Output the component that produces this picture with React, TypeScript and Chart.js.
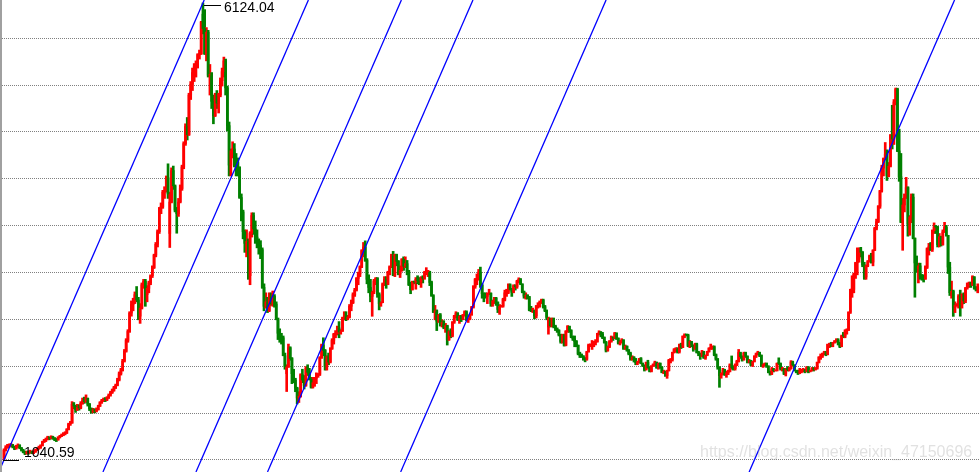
import { useEffect, useRef } from "react";
import { Chart, registerables } from "chart.js";
Chart.register(...registerables);

// Weekly bars, oldest first (index 0 = first week shown)
const opens = [
  // 2005
  1060,1150,1180,1195,1200,1210,1185,1170,1190,1205,1175,1150,1130,1115,1125,1120,1135,1120,1130,1150,1165,
  // 2006
  1180,1200,1240,1255,1270,1290,1280,1295,1285,1270,1265,1290,1305,1315,1330,1340,1380,1440,1450,1660,1640,1600,1630,1620,1670,1700,1690,1725,1660,1610,1580,1600,1585,1600,1640,1680,1700,1715,1710,1730,1760,1790,1815,1845,1870,1930,2000,2040,2140,2250,2370,2470,
  // 2007
  2675,2770,2795,2880,2820,2640,2730,2990,3030,2880,2950,3010,3090,3180,3320,3440,3580,3840,3860,4020,4030,4180,3560,3910,4260,4090,3820,3780,3910,4060,4300,4560,4750,4660,5100,5220,5350,5420,5450,5550,5560,6000,5840,5560,5800,5320,5330,5030,4870,5090,5010,5100,
  // 2008
  5260,5360,5480,5180,4760,4320,4480,4500,4370,4350,4300,3960,3800,3580,3450,3470,3090,3560,3760,3610,3520,3470,3430,3380,2960,2750,2800,2700,2860,2780,2860,2775,2610,2450,2405,2400,2200,2000,2075,2290,2170,2000,1930,1840,1730,1750,1990,1930,1870,2060,2015,1940,
  // 2009
  1850,1900,1950,1990,1995,2180,2320,2260,2080,2190,2130,2280,2370,2440,2445,2510,2465,2475,2625,2650,2610,2630,2750,2790,2880,2930,3060,3110,3190,3370,3410,3260,3050,2960,2860,2910,3030,3060,2880,2780,2790,3000,3050,2995,3130,3190,3310,3100,3320,3250,3110,3150,
  // 2010
  3275,3195,3225,3130,2990,2935,3020,3018,3050,3030,3015,3065,3060,3130,3130,3130,3015,2870,2690,2700,2585,2655,2555,2570,2515,2535,2380,2470,2425,2575,2640,2670,2605,2640,2610,2655,2690,2600,2610,2655,2740,2970,3050,3050,3130,2985,2890,2870,2860,2885,2895,2780,
  // 2011
  2810,2840,2790,2715,2750,2752,2827,2900,2905,2990,2937,2906,2977,2967,3030,3050,2999,2911,2863,2872,2858,2709,2705,2705,2643,2746,2762,2797,2820,2745,2701,2520,2593,2534,2612,2528,2497,2482,2432,2359,2431,2317,2473,2528,2481,2416,2387,2360,2316,2224,2204,2199,
  // 2012
  2170,2163,2244,2319,2320,2330,2351,2357,2439,2460,2439,2404,2349,2262,2302,2359,2406,2396,2452,2394,2344,2350,2373,2281,2306,2260,2225,2170,2185,2168,2123,2132,2168,2114,2092,2047,2127,2069,2026,2086,2104,2128,2066,2117,2069,2015,2026,1980,2033,2150,2153,2234,
  // 2013
  2269,2276,2243,2317,2292,2419,2432,2430,2314,2359,2318,2278,2328,2236,2226,2206,2245,2177,2205,2246,2283,2288,2301,2211,2162,2073,1979,2007,2039,1992,2010,2029,2100,2068,2057,2098,2139,2236,2191,2160,2228,2193,2133,2149,2106,2135,2196,2220,2237,2205,2085,2101,
  // 2014
  2116,2083,2014,2004,2054,2033,2035,2115,2113,2056,2057,2004,2047,2042,2058,2131,2098,2036,2026,2011,2026,2034,2039,2030,2070,2024,2036,2059,2046,2059,2126,2185,2194,2226,2240,2217,2326,2331,2329,2347,2364,2374,2341,2302,2420,2418,2478,2487,2683,2938,2938,3109,
  // 2015
  3234,3285,3376,3351,3210,3076,3203,3247,3310,3241,3372,3617,3691,3863,4034,4287,4393,4441,4205,4308,4657,4611,5023,5166,4478,4192,3686,3877,3957,4070,3663,3744,3965,3508,3232,3160,3200,3097,3092,3053,3183,3391,3412,3383,3590,3632,3630,3436,3524,3435,3578,3627,
  // 2016
  3539,3186,2901,2916,2738,2763,2770,2860,2767,2874,2810,2955,2979,3009,2985,3078,2959,2938,
];

const highs = [
  1165,1200,1215,1220,1225,1215,1195,1205,1220,1210,1180,1160,1140,1140,1140,1150,1140,1145,1160,1175,1195,
  1210,1250,1270,1285,1305,1300,1310,1305,1290,1280,1300,1315,1330,1345,1355,1390,1450,1470,1690,1680,1650,1660,1655,1690,1730,1740,1765,1730,1670,1620,1615,1610,1620,1650,1690,1715,1730,1735,1745,1775,1805,1830,1860,1885,1950,2020,2060,2160,2270,2390,2490,2690,
  2810,2840,2910,2970,2850,2780,3010,3050,3050,2980,3030,3100,3200,3330,3460,3600,3850,3900,4040,4080,4200,4335,4020,4290,4310,4100,3850,3950,4100,4320,4580,4780,4850,5120,5250,5400,5450,5480,5560,5600,5920,6124.04,6050,5850,5820,5440,5350,5100,5120,5150,5120,5290,
  5400,5522,5500,5200,4800,4500,4580,4560,4450,4400,4300,4000,3820,3600,3600,3500,3580,3790,3790,3700,3600,3500,3480,3400,3000,2900,2850,2900,2900,2920,2880,2800,2620,2500,2450,2420,2230,2100,2330,2300,2180,2050,1950,1850,1800,2000,2050,1980,2080,2100,2060,1960,
  1960,1960,2010,2000,2190,2330,2400,2270,2200,2230,2290,2390,2450,2480,2530,2580,2490,2630,2690,2690,2650,2770,2820,2900,2950,3070,3130,3200,3380,3460,3478,3280,3100,3050,2920,3050,3070,3070,2900,2800,3010,3080,3080,3140,3200,3330,3361,3330,3330,3260,3200,3280,
  3300,3300,3260,3150,3020,3030,3030,3070,3090,3070,3080,3090,3140,3180,3150,3140,3030,2880,2760,2710,2660,2670,2600,2590,2560,2540,2480,2500,2580,2650,2690,2680,2650,2650,2660,2700,2700,2620,2660,2750,2980,3060,3110,3160,3186,3000,2900,2900,2900,2940,2900,2820,
  2850,2850,2800,2770,2760,2840,2930,2940,3000,3000,2950,2990,2990,3040,3067,3060,3000,2920,2900,2880,2860,2750,2730,2710,2760,2790,2810,2830,2830,2760,2710,2630,2620,2620,2620,2540,2510,2490,2440,2440,2440,2480,2536,2530,2490,2420,2420,2370,2320,2240,2220,2200,
  2180,2250,2330,2330,2370,2360,2380,2450,2478,2470,2460,2410,2360,2310,2370,2420,2410,2460,2455,2400,2370,2390,2380,2320,2310,2270,2240,2200,2190,2170,2140,2170,2180,2120,2100,2130,2150,2080,2090,2110,2140,2130,2120,2120,2080,2040,2030,2040,2160,2170,2240,2280,
  2290,2290,2330,2340,2420,2444,2440,2440,2370,2360,2320,2340,2340,2250,2230,2260,2250,2210,2250,2290,2330,2310,2310,2220,2170,2080,2010,2060,2050,2030,2040,2110,2198,2090,2110,2150,2270,2240,2200,2240,2240,2200,2160,2150,2140,2200,2230,2250,2240,2210,2110,2120,
  2120,2090,2030,2070,2060,2040,2120,2177,2120,2070,2060,2060,2080,2070,2146,2140,2100,2040,2040,2060,2050,2060,2050,2080,2080,2040,2070,2070,2070,2130,2190,2220,2230,2250,2250,2330,2340,2350,2350,2370,2390,2390,2350,2430,2460,2490,2500,2690,2940,3090,3120,3240,
  3400,3400,3406,3360,3240,3210,3260,3320,3340,3380,3630,3720,3870,4040,4320,4400,4572,4490,4350,4660,4986,5050,5178,5176,4720,4450,3950,4000,4184,4080,3760,4000,4000,3510,3310,3230,3230,3100,3100,3200,3400,3450,3460,3600,3678,3650,3640,3560,3530,3600,3684,3650,
  3540,3240,3030,2930,2800,2780,2880,2930,2890,2900,2960,3010,3020,3020,3090,3080,2970,3000,
];

const lows = [
  1040.59,1140,1170,1180,1190,1175,1155,1160,1180,1165,1140,1120,1100,1105,1105,1115,1110,1110,1125,1145,1160,
  1170,1195,1235,1245,1265,1265,1275,1270,1255,1245,1260,1285,1300,1310,1320,1335,1375,1425,1450,1610,1570,1590,1595,1610,1660,1670,1680,1640,1590,1560,1565,1565,1575,1595,1635,1670,1690,1690,1700,1725,1750,1780,1805,1835,1865,1920,1985,2030,2130,2240,2350,2460,
  2640,2700,2780,2800,2600,2560,2720,2950,2750,2800,2900,2990,3070,3170,3300,3410,3560,3780,3840,3950,4020,3950,3404,3900,4050,3800,3563,3750,3900,4040,4280,4540,4600,4650,5050,5150,5250,5300,5400,5500,5550,5780,5550,5480,5300,5100,4950,4780,4860,4950,4900,5080,
  5200,5300,5100,4700,4200,4200,4400,4300,4200,4200,3950,3700,3500,3350,3300,3050,2990,3520,3550,3450,3400,3330,3280,2950,2700,2730,2680,2690,2760,2750,2740,2600,2380,2350,2330,2200,2050,1802,2070,2150,1890,1900,1800,1664,1680,1740,1900,1830,1860,1980,1930,1840,
  1840,1860,1890,1960,1980,2170,2200,2040,2040,2100,2120,2270,2330,2400,2430,2400,2440,2470,2600,2590,2600,2620,2700,2780,2860,2920,2990,3080,3180,3300,3250,3000,2900,2800,2639,2890,2990,2850,2710,2750,2790,2980,2950,2990,3100,3180,3090,3080,3200,3100,3070,3140,
  3150,3180,3100,2980,2890,2930,3000,2940,3000,2990,2960,3010,3050,3100,3080,2980,2860,2680,2600,2480,2570,2530,2520,2500,2460,2319,2370,2400,2410,2560,2620,2590,2560,2580,2600,2640,2590,2570,2600,2650,2730,2950,2990,3040,2960,2840,2800,2840,2780,2880,2750,2750,
  2780,2760,2680,2660,2740,2740,2810,2860,2890,2930,2860,2900,2930,2950,3010,2990,2900,2840,2830,2830,2700,2690,2680,2610,2620,2730,2740,2780,2730,2690,2600,2440,2520,2520,2510,2480,2460,2420,2340,2340,2307,2310,2460,2460,2400,2370,2300,2300,2210,2180,2180,2150,
  2132,2150,2240,2300,2270,2300,2320,2350,2430,2410,2390,2340,2242,2250,2290,2350,2370,2390,2380,2330,2320,2340,2270,2270,2250,2210,2150,2150,2130,2100,2100,2120,2110,2080,2030,2040,2060,2020,2020,2080,2090,2060,2050,2060,2010,2000,1970,1949,2030,2120,2140,2230,
  2240,2230,2230,2280,2290,2400,2420,2300,2290,2300,2250,2270,2230,2200,2160,2190,2170,2160,2200,2240,2270,2270,2200,2150,2050,1849,1950,1990,1980,1960,1990,2020,2050,2040,2040,2090,2130,2170,2140,2150,2180,2120,2120,2090,2080,2130,2180,2210,2190,2080,2070,2090,
  2070,2010,1984,1990,2020,2030,2030,2100,2040,2030,1990,1975,2030,2030,2050,2090,2030,2010,1991,2000,2010,2020,2010,2020,2010,2020,2030,2030,2040,2050,2120,2160,2180,2210,2200,2210,2290,2300,2300,2340,2350,2320,2290,2300,2400,2400,2440,2480,2670,2850,2900,3060,
  3100,3240,3300,3190,3050,3050,3190,3240,3230,3200,3370,3600,3680,3840,4020,4200,4380,4150,4190,4300,4500,4550,4990,4470,4140,3680,3373,3800,3950,3530,3540,3680,3500,2851,3130,3010,3050,3040,3020,3050,3170,3320,3370,3360,3560,3560,3410,3410,3420,3430,3570,3530,
  3115,2870,2840,2638,2680,2750,2730,2640,2730,2780,2790,2940,2960,2960,2980,2940,2920,2900,
];

const closes = [
  1150,1180,1195,1200,1210,1185,1170,1190,1205,1175,1150,1130,1115,1125,1120,1135,1120,1130,1150,1165,1180,
  1200,1240,1255,1270,1290,1280,1295,1285,1270,1265,1290,1305,1315,1330,1340,1380,1440,1450,1660,1640,1600,1630,1620,1670,1700,1690,1725,1660,1610,1580,1600,1585,1600,1640,1680,1700,1715,1710,1730,1760,1790,1815,1845,1870,1930,2000,2040,2140,2250,2370,2470,2675,
  2770,2795,2880,2820,2640,2730,2990,3030,2880,2950,3010,3090,3180,3320,3440,3580,3840,3860,4020,4030,4180,4000,3910,4260,4090,3820,3780,3910,4060,4300,4560,4750,4660,5100,5220,5350,5420,5450,5550,5560,5910,5840,5560,5800,5320,5330,5030,4870,5090,5010,5100,5260,
  5360,5480,5180,4760,4320,4480,4500,4370,4350,4300,3960,3800,3580,3450,3470,3090,3560,3760,3610,3520,3470,3430,3380,2960,2750,2800,2700,2860,2780,2860,2775,2610,2450,2405,2400,2200,2080,2075,2290,2170,2000,1930,1840,1730,1750,1990,1930,1870,2060,2015,1940,1850,
  1900,1950,1990,1995,2180,2320,2260,2080,2190,2130,2280,2370,2440,2445,2510,2465,2475,2625,2650,2610,2630,2750,2790,2880,2930,3060,3110,3190,3370,3410,3260,3050,2960,2860,2910,3030,3060,2880,2780,2790,3000,3050,2995,3130,3190,3310,3100,3320,3250,3110,3150,3275,
  3195,3225,3130,2990,2935,3020,3018,3050,3030,3015,3065,3060,3130,3130,3130,3015,2870,2690,2700,2585,2655,2555,2570,2515,2535,2380,2470,2425,2575,2640,2670,2605,2640,2610,2655,2690,2600,2610,2655,2740,2970,3050,3050,3130,2985,2890,2870,2860,2885,2895,2780,2810,
  2840,2790,2715,2750,2752,2827,2900,2905,2990,2937,2906,2977,2967,3030,3050,2999,2911,2863,2872,2858,2709,2705,2705,2643,2746,2762,2797,2820,2745,2701,2627,2593,2534,2612,2528,2497,2482,2432,2359,2431,2317,2473,2528,2481,2416,2387,2360,2316,2224,2204,2199,2170,
  2163,2244,2319,2320,2330,2351,2357,2439,2460,2439,2404,2349,2262,2302,2359,2406,2396,2452,2394,2344,2350,2373,2281,2306,2260,2225,2170,2185,2168,2123,2132,2168,2114,2092,2047,2127,2069,2026,2086,2104,2128,2066,2117,2069,2015,2026,1980,2033,2150,2153,2234,2269,
  2276,2243,2317,2292,2419,2432,2430,2314,2359,2318,2278,2328,2236,2226,2206,2245,2177,2205,2246,2283,2288,2301,2211,2162,2073,1979,2007,2039,1992,2010,2029,2100,2068,2057,2098,2139,2236,2191,2160,2228,2193,2133,2149,2106,2135,2196,2220,2237,2205,2085,2101,2116,
  2083,2014,2004,2054,2033,2035,2115,2113,2056,2057,2004,2047,2042,2058,2131,2098,2036,2026,2011,2026,2034,2039,2030,2070,2024,2036,2059,2046,2059,2126,2185,2194,2226,2240,2217,2326,2331,2329,2347,2364,2374,2341,2302,2420,2418,2478,2487,2683,2938,2938,3109,3234,
  3285,3376,3351,3210,3076,3203,3247,3310,3241,3372,3617,3691,3863,4034,4287,4393,4441,4205,4308,4657,4611,5023,5166,4478,4192,3686,3877,3957,4070,3663,3744,3965,3508,3232,3160,3200,3097,3092,3053,3183,3391,3412,3383,3590,3632,3630,3436,3524,3435,3578,3627,3539,
  3186,2901,2916,2738,2763,2770,2860,2767,2874,2810,2955,2979,3009,2985,3078,2959,2938,2960,
];

// Horizontal dotted guide levels
const gridValues = [1040.59, 1561.5, 2082.7, 2603.9, 3125.2, 3646.4, 4167.7, 4688.9, 5210.2, 5731.4];
// Bar positions (in weeks) where each parallel blue line crosses the lowest low
const channelAnchors = [0, 59.7, 113.0, 154.0, 230.3, 430.0];
const yMin = 907;
const yMax = 6157;
const xMin = -2.292;
const xMax = 559.31;
const watermark = "https://blog.csdn.net/weixin_47150696";

const UP = "#FF0000";
const DOWN = "#008000";
const LINE = "#0000FF";
const FONT = '"Liberation Sans", Arial, sans-serif';

export default function App() {
  const ref = useRef<HTMLCanvasElement | null>(null);

  useEffect(() => {
    if (!ref.current) return;
    const n = closes.length;
    const colors = closes.map((c, i) => (c >= opens[i] ? UP : DOWN));
    const wickData = highs.map((h, i) => ({ x: i, y: [lows[i], h] }));
    const bodyData = closes.map((c, i) => ({
      x: i,
      y: [Math.min(opens[i], c), Math.max(opens[i], c)],
    }));

    let hiIdx = 0;
    let loIdx = 0;
    for (let i = 0; i < n; i++) {
      if (highs[i] > highs[hiIdx]) hiIdx = i;
      if (lows[i] < lows[loIdx]) loIdx = i;
    }
    const hiVal = highs[hiIdx];
    const loVal = lows[loIdx];
    const slope = (hiVal - loVal) / (hiIdx - loIdx);

    const lineSets = channelAnchors.map((a) => ({
      type: "line" as const,
      data: [
        { x: a + (yMin - loVal) / slope, y: yMin },
        { x: a + (yMax - loVal) / slope, y: yMax },
      ],
      borderColor: LINE,
      borderWidth: 1.3,
      pointRadius: 0,
      fill: false,
      tension: 0,
      order: 0,
    }));

    const annot = {
      id: "annot",
      afterDraw(chart: any) {
        const { ctx } = chart;
        const xs = chart.scales.x;
        const ys = chart.scales.y;
        ctx.save();
        // left frame
        ctx.fillStyle = "#a0a0a0";
        ctx.fillRect(0, 0, 2, chart.height);

        ctx.strokeStyle = "#000";
        ctx.lineWidth = 1;
        ctx.fillStyle = "#000";
        ctx.font = `14px ${FONT}`;
        ctx.textBaseline = "alphabetic";

        const hx = xs.getPixelForValue(hiIdx);
        const hy = ys.getPixelForValue(hiVal);
        const hly = Math.round(hy) + 2.5;
        ctx.beginPath();
        ctx.moveTo(Math.round(hx) + 1, hly);
        ctx.lineTo(Math.round(hx) + 18, hly);
        ctx.stroke();
        ctx.fillText(hiVal.toFixed(2), Math.round(hx) + 21, hy + 8.7);

        const lx = xs.getPixelForValue(loIdx);
        const ly = ys.getPixelForValue(loVal);
        const lly = Math.round(ly) + 0.5;
        ctx.beginPath();
        ctx.moveTo(Math.round(lx) - 1, lly);
        ctx.lineTo(Math.round(lx) + 15, lly);
        ctx.stroke();
        ctx.fillText(loVal.toFixed(2), Math.round(lx) + 20, ly - 2.7);

        ctx.font = `16px ${FONT}`;
        ctx.fillStyle = "rgba(170,170,170,0.35)";
        ctx.fillText(watermark, 700, 457);
        ctx.restore();
      },
    };

    const chart = new Chart(ref.current, {
      type: "bar",
      data: {
        datasets: [
          ...lineSets,
          {
            type: "bar" as const,
            data: bodyData as any,
            backgroundColor: colors,
            barThickness: 2,
            minBarLength: 1,
            grouped: false,
            order: 1,
          },
          {
            type: "bar" as const,
            data: wickData as any,
            backgroundColor: colors,
            barThickness: 2,
            grouped: false,
            order: 2,
          },
        ] as any,
      },
      options: {
        animation: false,
        responsive: false,
        devicePixelRatio: 1,
        events: [],
        layout: { padding: 0 },
        plugins: { legend: { display: false }, tooltip: { enabled: false } },
        scales: {
          x: {
            type: "linear",
            display: false,
            min: xMin,
            max: xMax,
            offset: false,
          },
          y: {
            type: "linear",
            display: true,
            min: yMin,
            max: yMax,
            ticks: { display: false },
            grid: { drawTicks: false, color: "#808080", lineWidth: 1 },
            border: { display: false, dash: [1, 1] },
            afterBuildTicks: (scale: any) => {
              scale.ticks = gridValues.map((v) => ({ value: v }));
            },
          },
        },
      },
      plugins: [annot],
    });
    return () => chart.destroy();
  }, []);

  return (
    <div
      style={{
        position: "fixed",
        left: 0,
        top: 0,
        width: 980,
        height: 472,
        background: "#fff",
      }}
    >
      <canvas ref={ref} width={980} height={472} style={{ display: "block" }} />
    </div>
  );
}
